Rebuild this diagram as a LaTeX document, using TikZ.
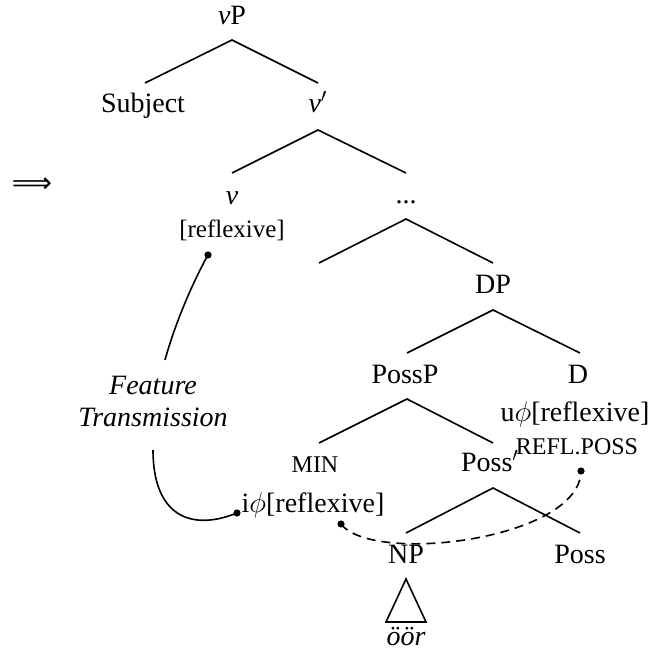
\documentclass[tikz,border=0pt]{standalone}
\usepackage{fontspec}
\setmainfont{Liberation Serif}
\newfontfamily\arrowfont{DejaVu Sans}
\newcommand\mysc[1]{{\fontsize{12}{14}\selectfont #1}}
\begin{document}
\begin{tikzpicture}[x=0.5pt,y=-0.5pt,
  lbl/.style={inner sep=0pt, anchor=base, font=\fontsize{14}{17}\selectfont},
  smalllbl/.style={inner sep=0pt, anchor=base, font=\fontsize{12.5}{15}\selectfont},
  branch/.style={line width=0.8pt},
  link/.style={line width=0.8pt},
  dashlink/.style={line width=0.8pt, dash pattern=on 4.5pt off 3pt},
  dotmark/.style={circle, fill=black, inner sep=0pt, minimum size=3.6pt}]
\useasboundingbox (0,0) rectangle (664,657);

% labels
\node[lbl] (vP) at (232,25) {\textit{v}P};
\node[lbl] (Subject) at (143,113) {Subject};
\node[lbl] (vbar) at (318,113) {\textit{v}$'$};
\node[lbl] (v) at (232,205) {\textit{v}};
\node[smalllbl] (vfeat) at (232,238) {[reflexive]};
\node[lbl] (dots) at (406,204) {...};
\node[lbl] (DP) at (493,294) {DP};
\node[lbl] (PossP) at (405,384) {PossP};
\node[lbl] (D) at (578,384) {D};
\node[lbl] (Dfeat) at (575,422) {u$\phi$[reflexive]};
\node[lbl] (Dposs) at (577,455) {\mysc{REFL.POSS}};
\node[lbl] (MIN) at (315,473) {\mysc{MIN}};
\node[lbl] (iphi) at (313,512) {i$\phi$[reflexive]};
\node[lbl] (Possbar) at (490,472) {Poss$'$};
\node[lbl] (NP) at (406,563) {NP};
\node[lbl] (Poss) at (580,563) {Poss};
\node[lbl] (oor) at (406,645) {\textit{öör}};
\node[inner sep=0pt, font=\fontsize{14}{17}\arrowfont] (arrow) at (32,185) {⟹};
\node[lbl, font=\fontsize{14}{17}\selectfont\itshape] (Feature) at (153,395) {Feature};
\node[lbl, font=\fontsize{14}{17}\selectfont\itshape] (Transmission) at (153,427) {Transmission};

% branch points
\coordinate (vPb) at (232,40);
\coordinate (Subjt) at (145,83);
\coordinate (vbart) at (318,83);
\coordinate (vbarb) at (318,130);
\coordinate (vt) at (232,173);
\coordinate (dotst) at (406,173);
\coordinate (dotsb) at (406,219);
\coordinate (leftt) at (319,263);
\coordinate (DPt) at (493,263);
\coordinate (DPb) at (493,310);
\coordinate (PossPt) at (407,353);
\coordinate (Dt) at (580,353);
\coordinate (PossPb) at (407,399);
\coordinate (MINt) at (319,443);
\coordinate (Possbart) at (493,443);
\coordinate (Possbarb) at (493,488);
\coordinate (NPt) at (406,533);
\coordinate (Posst) at (580,533);
\coordinate (triA) at (406,579);
\coordinate (triL) at (386,622);
\coordinate (triR) at (426,622);

\draw[branch] (Subjt) -- (vPb) -- (vbart);
\draw[branch] (vt) -- (vbarb) -- (dotst);
\draw[branch] (leftt) -- (dotsb) -- (DPt);
\draw[branch] (PossPt) -- (DPb) -- (Dt);
\draw[branch] (MINt) -- (PossPb) -- (Possbart);
\draw[branch] (NPt) -- (Possbarb) -- (Posst);
\draw[branch] (triA) -- (triL) -- (triR) -- cycle;

% feature transmission links
\node[dotmark] (dotA) at (208,255) {};
\node[dotmark] (dotB) at (237,513) {};
\node[dotmark] (dotC) at (341,524) {};
\node[dotmark] (dotD) at (581,471) {};
\coordinate (ftTop) at (165,360);
\coordinate (ftBot) at (153,450);

\draw[link] (dotA.center) .. controls (195,278) and (176,320) .. (ftTop);
\draw[link] (ftBot) .. controls (153,515) and (190,532) .. (dotB.center);
\draw[dashlink] (dotC.center) .. controls (372,565) and (580,540) .. (dotD.center);
\end{tikzpicture}
\end{document}
